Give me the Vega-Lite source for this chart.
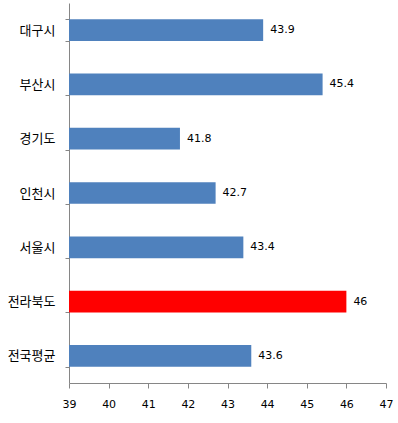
{
  "$schema": "https://vega.github.io/schema/vega-lite/v6.json",
  "autosize": "none",
  "width": 317,
  "height": 380,
  "padding": {"left": 69, "top": 3, "right": 12, "bottom": 40},
  "background": "white",
  "data": {"values": [
    {"region": "대구시", "value": 43.9, "hl": "no"},
    {"region": "부산시", "value": 45.4, "hl": "no"},
    {"region": "경기도", "value": 41.8, "hl": "no"},
    {"region": "인천시", "value": 42.7, "hl": "no"},
    {"region": "서울시", "value": 43.4, "hl": "no"},
    {"region": "전라북도", "value": 46, "hl": "yes"},
    {"region": "전국평균", "value": 43.6, "hl": "no"}
  ]},
  "encoding": {
    "y": {"field": "region", "type": "nominal", "sort": null,
      "scale": {"paddingInner": 0.6, "paddingOuter": 0.3},
      "axis": {"title": null, "tickBand": "extent", "domainColor": "#868686", "tickColor": "#868686", "tickSize": 4, "labelPadding": 10, "labelFont": "Noto Sans CJK KR", "labelFontSize": 13, "labelColor": "#000000"}},
    "x": {"field": "value", "type": "quantitative",
      "scale": {"domain": [39, 47], "nice": false, "zero": false},
      "axis": {"title": null, "values": [39,40,41,42,43,44,45,46,47], "grid": false, "domainColor": "#868686", "tickColor": "#868686", "tickSize": 5, "labelPadding": 10, "labelFont": "DejaVu Sans", "labelFontSize": 11, "labelColor": "#000000", "labelFlush": false}}
  },
  "layer": [
    {"mark": {"type": "bar", "clip": true},
      "encoding": {
        "x2": {"datum": 39},
        "color": {"field": "hl", "type": "nominal", "scale": {"domain": ["no", "yes"], "range": ["#4F81BD", "#FF0000"]}, "legend": null}
      }},
    {"mark": {"type": "text", "align": "left", "dx": 7, "font": "DejaVu Sans", "fontSize": 11, "color": "#000000"},
      "encoding": {"text": {"field": "value", "type": "quantitative"}}}
  ],
  "config": {"view": {"stroke": null}}
}
